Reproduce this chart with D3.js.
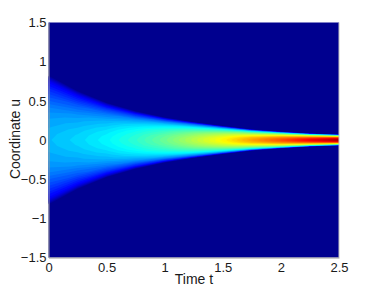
<!DOCTYPE html>
<html>
<head>
<meta charset="utf-8">
<script src="https://cdn.jsdelivr.net/npm/d3@7"></script>
<style>
    html, body { margin: 0; padding: 0; background: #fff; }
    svg { display: block; }
    text { font-family: "Liberation Sans", Arial, sans-serif; fill: #1a1a1a; }
</style>
</head>
<body>
<svg id="chart" width="374" height="289"></svg>
<script>
const times = [0, 0.25, 0.5, 0.75, 1, 1.25, 1.5, 1.75, 2, 2.25, 2.5];
const halfWidths = [0.83, 0.63, 0.48, 0.37, 0.29, 0.23, 0.18, 0.135, 0.106, 0.083, 0.07];
// share of the half width at that time, from the ridge out to the dark edge
const offsets = [0, 0.1, 0.2, 0.3, 0.4, 0.5, 0.6, 0.7, 0.8, 0.9, 0.95, 1];
const levels = [
    [0.31, 0.335, 0.37, 0.42, 0.48, 0.555, 0.63, 0.72, 0.80, 0.89, 0.97],
    [0.305, 0.33, 0.365, 0.415, 0.475, 0.55, 0.625, 0.71, 0.79, 0.875, 0.955],
    [0.295, 0.32, 0.355, 0.405, 0.465, 0.535, 0.61, 0.695, 0.77, 0.85, 0.92],
    [0.285, 0.305, 0.34, 0.39, 0.445, 0.515, 0.585, 0.665, 0.735, 0.81, 0.875],
    [0.27, 0.29, 0.32, 0.37, 0.425, 0.49, 0.555, 0.625, 0.695, 0.765, 0.81],
    [0.25, 0.27, 0.30, 0.345, 0.395, 0.455, 0.515, 0.58, 0.64, 0.70, 0.74],
    [0.22, 0.24, 0.27, 0.31, 0.36, 0.415, 0.47, 0.53, 0.58, 0.625, 0.64],
    [0.19, 0.21, 0.235, 0.27, 0.315, 0.365, 0.415, 0.465, 0.51, 0.54, 0.535],
    [0.155, 0.165, 0.185, 0.21, 0.25, 0.29, 0.33, 0.37, 0.405, 0.42, 0.41],
    [0.115, 0.12, 0.125, 0.14, 0.16, 0.19, 0.21, 0.235, 0.255, 0.26, 0.25],
    [0.06, 0.06, 0.06, 0.07, 0.08, 0.095, 0.105, 0.115, 0.12, 0.12, 0.115],
    [0, 0, 0, 0, 0, 0, 0, 0, 0, 0, 0]
];
const xTicks = [0, 0.5, 1, 1.5, 2, 2.5];
const yTicks = [-1.5, -1, -0.5, 0, 0.5, 1, 1.5];
const jetStops = [0, 0.125, 0.375, 0.625, 0.875, 1];
const jetColors = ["#00008f", "#0000ff", "#00ffff", "#ffff00", "#ff0000", "#800000"];
const bandCount = 64;

const plotLeft = 48.5, plotRight = 339, plotTop = 22.5, plotBottom = 257.5;

const svg = d3.select("#chart");
const x = d3.scaleLinear().domain([0, 2.5]).range([plotLeft, plotRight]);
const y = d3.scaleLinear().domain([-1.5, 1.5]).range([plotBottom, plotTop]);
const jet = d3.scaleLinear().domain(jetStops).range(jetColors).interpolate(d3.interpolateRgb);

// the picture is symmetric around u = 0, so the rows are mirrored
const rowOffsets = offsets.slice(1).reverse().map(d => -d).concat(offsets);
const rows = levels.slice(1).reverse().concat(levels);
const nx = times.length, ny = rows.length;
const grid = rows.flat();

// d3.contours puts value i at i + 0.5
const tOf = d3.scaleLinear().domain(times.map((d, i) => i + 0.5)).range(times).clamp(true);
const widthOf = d3.scaleLinear().domain(times.map((d, i) => i + 0.5)).range(halfWidths).clamp(true);
const offsetOf = d3.scaleLinear().domain(rowOffsets.map((d, i) => i + 0.5)).range(rowOffsets).clamp(true);

const path = d3.geoPath(d3.geoTransform({
    point(cx, cy) {
        this.stream.point(x(tOf(cx)), y(offsetOf(cy) * widthOf(cx)));
    }
}));

svg.append("rect")
    .attr("x", plotLeft).attr("y", plotTop)
    .attr("width", plotRight - plotLeft).attr("height", plotBottom - plotTop)
    .attr("fill", jet(0));

const thresholds = d3.range(1, bandCount).map(k => k / bandCount);
const bands = d3.contours().size([nx, ny]).thresholds(thresholds)(grid);

svg.append("g")
    .selectAll("path")
    .data(bands)
    .join("path")
    .attr("d", path)
    .attr("fill", d => jet(d.value + 0.5 / bandCount));

// axes: no visible tick marks, the frame is a thin grey line
const xAxis = d3.axisBottom(x).tickValues(xTicks).tickSize(0).tickPadding(5).tickFormat(d3.format("~g"));
const yAxis = d3.axisLeft(y).tickValues(yTicks).tickSize(0).tickPadding(2).tickFormat(d3.format("~g"));

const gx = svg.append("g").attr("transform", `translate(0,${plotBottom})`).call(xAxis);
const gy = svg.append("g").attr("transform", `translate(${plotLeft},0)`).call(yAxis);
[gx, gy].forEach(g => {
    g.selectAll("text").attr("font-size", 13).attr("font-family", null);
    g.select(".domain").attr("stroke", "#9a9a9a");
});

svg.append("line")
    .attr("x1", plotRight).attr("x2", plotRight).attr("y1", plotTop).attr("y2", plotBottom)
    .attr("stroke", "#c4c4c4");

svg.append("text")
    .attr("x", 194).attr("y", 284)
    .attr("text-anchor", "middle").attr("font-size", 14)
    .text("Time t");

svg.append("text")
    .attr("transform", "translate(20,139) rotate(-90)")
    .attr("text-anchor", "middle").attr("font-size", 14)
    .text("Coordinate u");
</script>
</body>
</html>
